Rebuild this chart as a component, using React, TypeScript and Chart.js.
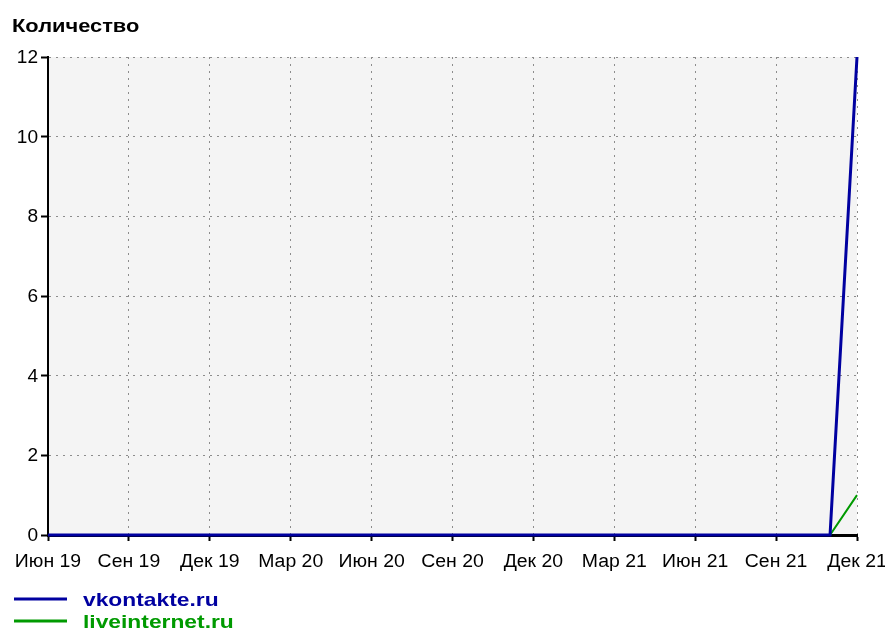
import React, { useEffect, useRef } from 'react';
import { Chart, registerables } from 'chart.js';
Chart.register(...registerables);

const months = [
  'Июн 19', 'Июл 19', 'Авг 19', 'Сен 19', 'Окт 19', 'Ноя 19', 'Дек 19',
  'Янв 20', 'Фев 20', 'Мар 20', 'Апр 20', 'Май 20', 'Июн 20', 'Июл 20', 'Авг 20', 'Сен 20', 'Окт 20', 'Ноя 20', 'Дек 20',
  'Янв 21', 'Фев 21', 'Мар 21', 'Апр 21', 'Май 21', 'Июн 21', 'Июл 21', 'Авг 21', 'Сен 21', 'Окт 21', 'Ноя 21', 'Дек 21',
];
const vkontakte = [0, 0, 0, 0, 0, 0, 0, 0, 0, 0, 0, 0, 0, 0, 0, 0, 0, 0, 0, 0, 0, 0, 0, 0, 0, 0, 0, 0, 0, 0, 12];
const liveinternet = [0, 0, 0, 0, 0, 0, 0, 0, 0, 0, 0, 0, 0, 0, 0, 0, 0, 0, 0, 0, 0, 0, 0, 0, 0, 0, 0, 0, 0, 0, 1];
const seriesNames = ['vkontakte.ru', 'liveinternet.ru'];
const seriesColors = ['#0000a0', '#009a00'];
const yTitle = 'Количество';

const FONT = '"Liberation Sans", Arial, sans-serif';

function stretchText(ctx: any, text: string, x: number, y: number, sx: number) {
  ctx.save();
  ctx.translate(x, y);
  ctx.scale(sx, 1);
  ctx.fillText(text, 0, 0);
  ctx.restore();
}

const decor = {
  id: 'decor',
  beforeDraw(chart: any) {
    const { ctx, chartArea: a } = chart;
    ctx.save();
    ctx.fillStyle = '#f4f4f4';
    ctx.fillRect(a.left, a.top, a.right - a.left, a.bottom - a.top);
    ctx.restore();
  },
  afterDraw(chart: any) {
    const { ctx } = chart;
    const xs = chart.scales.x;
    const ys = chart.scales.y;
    ctx.save();
    ctx.fillStyle = '#000';
    // title
    ctx.font = `bold 19px ${FONT}`;
    ctx.textBaseline = 'alphabetic';
    ctx.textAlign = 'left';
    stretchText(ctx, yTitle, 12, 32, 1.15);
    // x tick labels
    ctx.font = `18px ${FONT}`;
    ctx.textAlign = 'center';
    xs.ticks.forEach((t: any) => {
      const label = months[t.value];
      if (label) stretchText(ctx, label, xs.getPixelForValue(t.value), 567, 1.08);
    });
    // y tick labels
    ctx.textAlign = 'right';
    ctx.textBaseline = 'middle';
    ys.ticks.forEach((t: any) => {
      stretchText(ctx, String(t.value), 38, ys.getPixelForValue(t.value) + 1, 1.06);
    });
    // legend
    chart.data.datasets.forEach((ds: any, i: number) => {
      const y = 599 + 22 * i;
      ctx.strokeStyle = ds.borderColor;
      ctx.lineWidth = 3;
      ctx.beginPath();
      ctx.moveTo(14, y);
      ctx.lineTo(67, y);
      ctx.stroke();
      ctx.fillStyle = ds.borderColor;
      ctx.font = `bold 19px ${FONT}`;
      ctx.textAlign = 'left';
      ctx.textBaseline = 'alphabetic';
      stretchText(ctx, ds.label, 83, y + 7, 1.2);
    });
    ctx.restore();
  },
};

export default function App() {
  const ref = useRef<HTMLCanvasElement>(null);
  useEffect(() => {
    const chart = new Chart(ref.current!, {
      type: 'line',
      data: {
        datasets: [
          {
            label: seriesNames[0],
            data: vkontakte.map((v, i) => ({ x: i, y: v })),
            borderColor: seriesColors[0],
            borderWidth: 3,
            pointRadius: 0,
            clip: false as any,
          },
          {
            label: seriesNames[1],
            data: liveinternet.map((v, i) => ({ x: i, y: v })),
            borderColor: seriesColors[1],
            borderWidth: 2,
            pointRadius: 0,
            clip: false as any,
          },
        ],
      },
      options: {
        animation: false,
        responsive: false,
        layout: { padding: { top: 57, right: 28, left: 0, bottom: 0 } },
        plugins: { legend: { display: false }, title: { display: false }, tooltip: { enabled: false } },
        scales: {
          x: {
            type: 'linear',
            min: 0,
            max: months.length - 1,
            ticks: {
              stepSize: 3,
              autoSkip: false,
              maxRotation: 0,
              display: false,
            },
            grid: {
              color: '#8c8c8c',
              lineWidth: 1,
              tickColor: '#000',
              tickLength: 6,
              tickWidth: 2,
              tickBorderDash: [],
            },
            border: { display: true, color: '#000', width: 3, dash: [2, 5] },
            afterFit: (s: any) => {
              s.height = 96;
              s.paddingLeft = 0;
              s.paddingRight = 0;
            },
          },
          y: {
            min: 0,
            max: 12,
            ticks: {
              stepSize: 2,
              display: false,
            },
            grid: {
              color: '#8c8c8c',
              lineWidth: 1,
              tickColor: '#000',
              tickLength: 7,
              tickWidth: 2,
              tickBorderDash: [],
            },
            border: { display: true, color: '#000', width: 2, dash: [2, 5] },
            afterFit: (s: any) => {
              s.width = 48;
              s.paddingTop = 0;
              s.paddingBottom = 0;
            },
          },
        },
      } as any,
      plugins: [decor],
    });
    return () => chart.destroy();
  }, []);
  return (
    <div style={{ position: 'absolute', left: 0, top: 0, width: 885, height: 631, background: '#fff' }}>
      <canvas ref={ref} width={885} height={631} />
    </div>
  );
}
